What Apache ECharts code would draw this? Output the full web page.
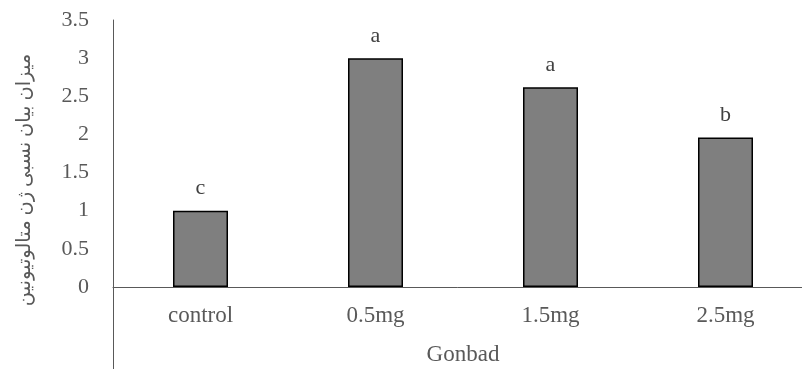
<!DOCTYPE html>
<html>
<head>
<meta charset="utf-8">
<script src="https://cdn.jsdelivr.net/npm/echarts@6/dist/echarts.min.js"></script>
<style>
html,body{margin:0;padding:0;background:#fff;}
#main{width:802px;height:369px;}
</style>
</head>
<body>
<div id="main"></div>
<script>
const categories = ['control', '0.5mg', '1.5mg', '2.5mg'];
const values = [1.0, 3.0, 2.62, 1.96];
const letters = ['c', 'a', 'a', 'b'];
const yMin = 0, yMax = 3.5, yStep = 0.5;
const xTitle = 'Gonbad';
const yTitle = 'میزان بیان نسبی ژن متالوتیونین';

const FONT = "'Liberation Serif', 'DejaVu Sans', serif";
const AXIS_COLOR = '#595959';
const chart = echarts.init(document.getElementById('main'), null, {renderer: 'canvas'});
chart.setOption({
  animation: false,
  backgroundColor: '#ffffff',
  grid: [
    {left: 113, top: 20, height: 267, width: 700, outerBoundsMode: 'none'},
    {left: 113, top: 287, bottom: 0, width: 700, outerBoundsMode: 'none'}
  ],
  xAxis: [{
    gridIndex: 0,
    type: 'category',
    data: categories,
    axisLine: {lineStyle: {color: AXIS_COLOR, width: 1}},
    axisTick: {show: false},
    axisLabel: {color: AXIS_COLOR, fontFamily: FONT, fontSize: 23, margin: 17},
    name: xTitle,
    nameLocation: 'middle',
    nameGap: 56,
    nameTextStyle: {color: AXIS_COLOR, fontFamily: FONT, fontSize: 23}
  }, {
    gridIndex: 1,
    type: 'category',
    data: categories,
    show: false
  }],
  yAxis: [{
    gridIndex: 0,
    type: 'value',
    min: yMin,
    max: yMax,
    interval: yStep,
    splitLine: {show: false},
    axisLine: {show: true, lineStyle: {color: AXIS_COLOR, width: 1}},
    axisTick: {show: false},
    axisLabel: {color: AXIS_COLOR, fontFamily: FONT, fontSize: 22, margin: 24},
    name: yTitle,
    nameLocation: 'middle',
    nameGap: 78,
    nameRotate: 90,
    nameTextStyle: {color: AXIS_COLOR, fontFamily: FONT, fontSize: 19.5, padding: [0, 53, 0, 0]}
  }, {
    gridIndex: 1,
    type: 'value',
    min: 0,
    max: 1,
    splitLine: {show: false},
    axisLine: {show: true, lineStyle: {color: AXIS_COLOR, width: 1}},
    axisTick: {show: false},
    axisLabel: {show: false}
  }],
  series: [{
    type: 'bar',
    xAxisIndex: 0,
    yAxisIndex: 0,
    data: values,
    barWidth: 55,
    itemStyle: {color: '#7f7f7f', borderColor: '#000000', borderWidth: 1.5},
    label: {
      show: true,
      position: 'top',
      distance: 11,
      formatter: p => letters[p.dataIndex],
      color: '#404040',
      fontFamily: FONT,
      fontSize: 22
    }
  }]
});
</script>
</body>
</html>
